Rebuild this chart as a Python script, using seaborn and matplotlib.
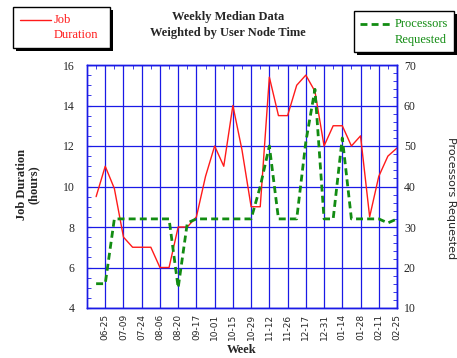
import numpy as np
import pandas as pd
import matplotlib
matplotlib.use("Agg")
import matplotlib.pyplot as plt
import seaborn as sns
from matplotlib.patches import Rectangle
from matplotlib.lines import Line2D
from matplotlib.ticker import MultipleLocator, FixedLocator

weeks = ["06-18", "06-25", "07-02", "07-09", "07-16", "07-24", "07-31", "08-06",
         "08-13", "08-20", "09-03", "09-17", "09-24", "10-01", "10-08", "10-15",
         "10-22", "10-29", "11-05", "11-12", "11-19", "11-26", "12-10", "12-17",
         "12-24", "12-31", "01-07", "01-14", "01-21", "01-28", "02-04", "02-11",
         "02-18", "02-25"]
job_duration = [9.5, 11.0, 9.9, 7.5, 7.0, 7.0, 7.0, 6.0, 6.0, 8.0,
                8.0, 8.5, 10.5, 12.0, 11.0, 14.0, 11.8, 9.0, 9.0, 15.4,
                13.5, 13.5, 15.0, 15.5, 14.7, 12.0, 13.0, 13.0, 12.0, 12.5,
                8.5, 10.5, 11.5, 11.9]
processors = [16, 16, 32, 32, 32, 32, 32, 32, 32, 15,
              31, 32, 32, 32, 32, 32, 32, 32, 40, 50,
              32, 32, 32, 51, 64, 32, 32, 52, 32, 32,
              32, 32, 31, 32]

df = pd.DataFrame({"week": weeks, "job": job_duration, "procs": processors})
df["pos"] = np.arange(len(df))

sns.set_style("white")
plt.rcParams['font.family'] = ['DejaVu Sans']
serif = ['Liberation Serif', 'DejaVu Serif']
blue = "#1a1ae6"
red = "#ff1a1a"
green = "#128c12"

W, H = 457, 358
fig = plt.figure(figsize=(W / 100, H / 100), dpi=100)
ax = fig.add_axes([87 / W, 1 - 308 / H, (397 - 87) / W, (308 - 65) / H])
ax2 = ax.twinx()

sns.lineplot(data=df, x="pos", y="job", ax=ax, color=red, lw=1)
sns.lineplot(data=df, x="pos", y="procs", ax=ax2, color=green, lw=2,
             linestyle=(0, (2.5, 1.5)))

ax.set_xlim(-1, len(df) - 1)
ax.set_ylim(4, 16)
ax2.set_ylim(10, 70)

# labelled weeks every other point
major = df["pos"][1::2].tolist()
ax.xaxis.set_major_locator(FixedLocator(major))
ax.set_xticklabels(df["week"][1::2], rotation=90, fontsize=6.5)
ax.xaxis.set_minor_locator(FixedLocator(df["pos"][0::2].tolist()))
ax.yaxis.set_major_locator(MultipleLocator(2))
ax.yaxis.set_minor_locator(MultipleLocator(0.5))
ax2.yaxis.set_major_locator(MultipleLocator(10))
ax2.yaxis.set_minor_locator(MultipleLocator(2))

ax.grid(True, which="major", color=blue, lw=0.9)
ax.tick_params(axis="x", which="both", direction="in", top=True, color=blue, pad=4)
ax.tick_params(axis="x", which="major", length=0)
ax.tick_params(axis="x", which="minor", length=3)
ax.tick_params(axis="y", which="both", direction="in", color=blue, length=3, pad=9)
ax2.tick_params(axis="y", which="both", direction="in", color=blue, length=3, pad=5)
for t in ax.get_yticklabels() + ax2.get_yticklabels():
    t.set_family(serif)
    t.set_fontsize(8.5)
for a in (ax, ax2):
    for s in a.spines.values():
        s.set_color(blue)
        s.set_linewidth(1)
ax.set_xlabel("")
ax.set_ylabel("")
ax2.set_ylabel("")


def fx(x):
    return x / W


def fy(y):
    return 1 - y / H


# titles and axis labels
fig.text(fx(228), fy(17), "Weekly Median Data", ha="center", va="center",
         family=serif, fontweight="bold", fontsize=9)
fig.text(fx(228), fy(33), "Weighted by User Node Time", ha="center", va="center",
         family=serif, fontweight="bold", fontsize=9)
fig.text(fx(242), fy(350), "Week", ha="center", va="center",
         family=serif, fontweight="bold", fontsize=9)
fig.text(fx(28), fy(185), "Job Duration\n(hours)", ha="center", va="center",
         rotation=90, family=serif, fontweight="bold", fontsize=9, linespacing=1.05)
fig.text(fx(451), fy(198), "Processors Requested", ha="center", va="center",
         rotation=270, fontsize=8)

# legend boxes with drop shadow
def legend_box(x0, y0, x1, y1):
    w, h = (x1 - x0) / W, (y1 - y0) / H
    fig.add_artist(Rectangle((fx(x0 + 3), fy(y1 + 3)), w, h, facecolor="black",
                             edgecolor="none", transform=fig.transFigure))
    fig.add_artist(Rectangle((fx(x0), fy(y1)), w, h, facecolor="white",
                             edgecolor="black", lw=1, transform=fig.transFigure))


legend_box(13, 7, 110, 48)
fig.add_artist(Line2D([fx(20), fx(51)], [fy(20), fy(20)], color=red, lw=1,
                      transform=fig.transFigure))
fig.text(fx(54), fy(20), "Job", color=red, va="center", family=serif, fontsize=9)
fig.text(fx(54), fy(35), "Duration", color=red, va="center", family=serif, fontsize=9)

legend_box(354, 11, 454, 52)
fig.add_artist(Line2D([fx(360), fx(393)], [fy(24), fy(24)], color=green, lw=2,
                      linestyle=(0, (2.5, 1.5)), transform=fig.transFigure))
fig.text(fx(395), fy(24), "Processors", color=green, va="center", family=serif, fontsize=9)
fig.text(fx(395), fy(40), "Requested", color=green, va="center", family=serif, fontsize=9)

fig.savefig("out.png", dpi=100)
